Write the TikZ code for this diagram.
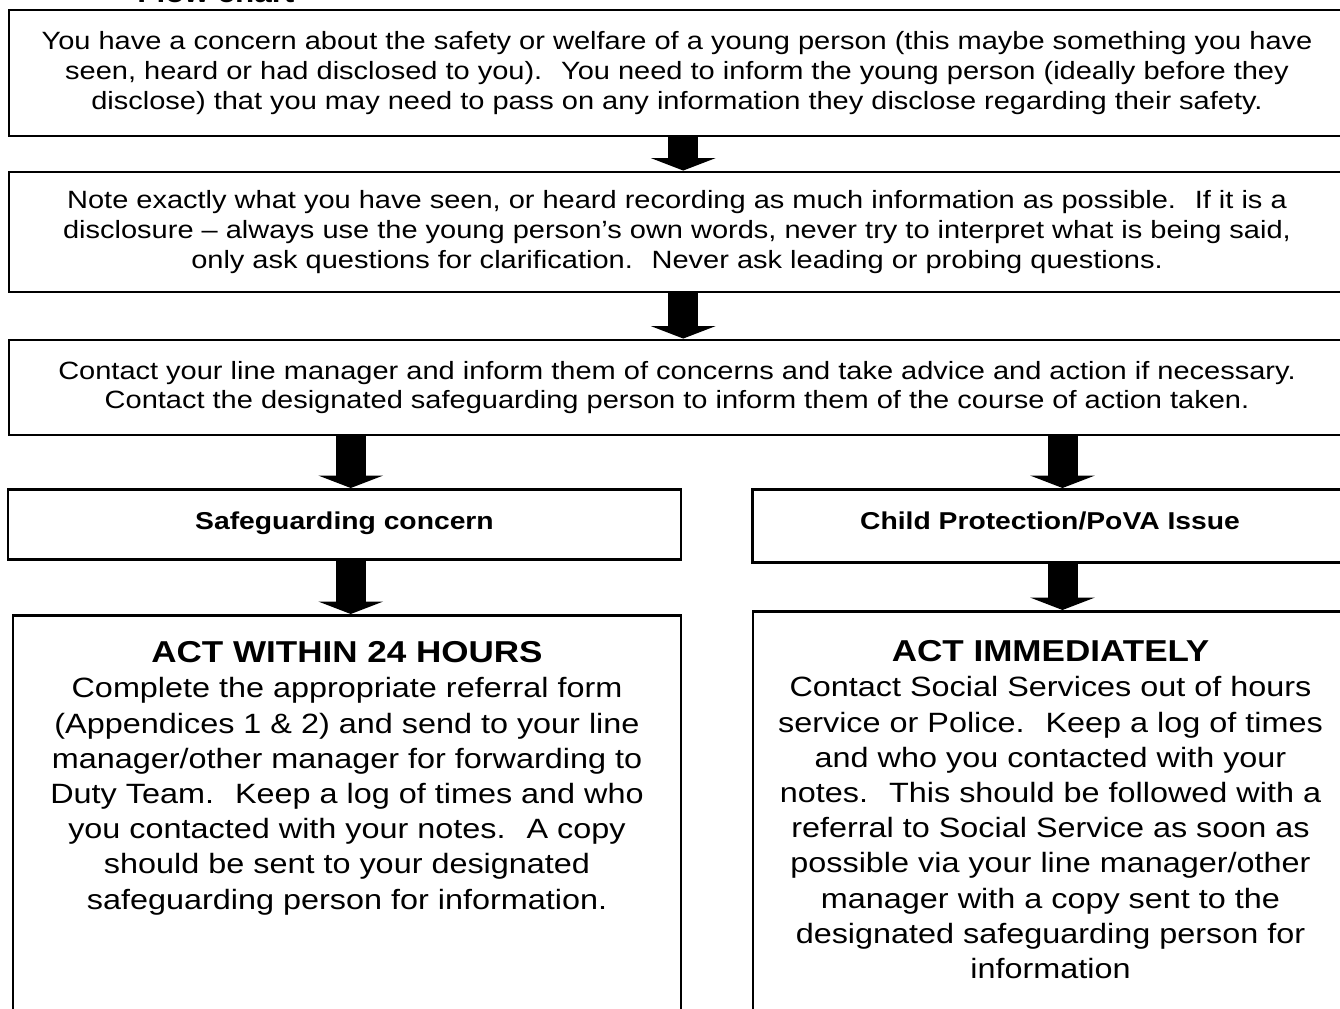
\documentclass[tikz,border=0pt]{standalone}
\usepackage{fontspec}
\setmainfont{Liberation Sans}[FakeStretch=1.16]
\usetikzlibrary{arrows.meta,positioning}

\begin{document}
\begin{tikzpicture}[x=0.48pt,y=-0.48pt,
 flow box/.style={draw,line width=1.4pt,align=center,inner sep=0pt,font=\fontsize{12}{14.2}\selectfont},
 head box/.style={flow box,anchor=north,inner ysep=10.7pt,text height=8.4pt,font=\fontsize{11.7}{14}\selectfont\bfseries},
 act box/.style={flow box,anchor=north,inner ysep=12.5pt,text depth=300pt,font=\fontsize{13.4}{16.9}\selectfont},
 big arrow/.style={line width=14.4pt,-{Triangle[length=6pt,width=31pt]}}]
\useasboundingbox (0,0) rectangle (1340,1008);
%title
  \node[anchor=base west,font=\fontsize{13}{16}\selectfont\bfseries] (title) at (130,2) {Flow chart};
%1
  \node[flow box,minimum width=641.3pt,minimum height=60.5pt] (concern) at (677,73)
    {You have a concern about the safety or welfare of a young person (this maybe something you have\\
     seen, heard or had disclosed to you).~ You need to inform the young person (ideally before they\\
     disclose) that you may need to pass on any information they disclose regarding their safety.};
%2
  \node[flow box,minimum width=641.3pt,minimum height=57.6pt] (note) at (677,232)
    {Note exactly what you have seen, or heard recording as much information as possible.~ If it is a\\
     disclosure – always use the young person’s own words, never try to interpret what is being said,\\
     only ask questions for clarification.~ Never ask leading or probing questions.};
%3
  \node[flow box,minimum width=641.3pt,minimum height=45.6pt] (contact) at (677,387.5)
    {Contact your line manager and inform them of concerns and take advice and action if necessary.\\
     Contact the designated safeguarding person to inform them of the course of action taken.};
%4
  \node[head box,minimum width=323pt,text depth=3.8pt] (safe) at (344.5,488) {Safeguarding concern};
%5
  \node[head box,minimum width=286pt,text depth=5.2pt] (child) at (1050,488) {Child Protection/PoVA Issue};
%6
  \node[act box,minimum width=320.6pt] (day) at (347,614)
    {\textbf{\fontsize{14.5}{16.9}\selectfont ACT WITHIN 24 HOURS}\\
     Complete the appropriate referral form\\
     (Appendices 1 \& 2) and send to your line\\
     manager/other manager for forwarding to\\
     Duty Team.~ Keep a log of times and who\\
     you contacted with your notes.~ A copy\\
     should be sent to your designated\\
     safeguarding person for information.};
%7
  \node[act box,minimum width=285.6pt,inner ysep=14pt] (now) at (1050.5,610)
    {\textbf{\fontsize{14.5}{16.9}\selectfont ACT IMMEDIATELY}\\
     Contact Social Services out of hours\\
     service or Police.~ Keep a log of times\\
     and who you contacted with your\\
     notes.~ This should be followed with a\\
     referral to Social Service as soon as\\
     possible via your line manager/other\\
     manager with a copy sent to the\\
     designated safeguarding person for\\
     information};
%arrows
  \draw[big arrow] ([xshift=3pt]concern.south) -- ([xshift=3pt]note.north);
  \draw[big arrow] ([xshift=3pt]note.south) -- ([xshift=3pt]contact.north);
  \draw[big arrow] ([xshift=3pt]safe.north |- contact.south) -- ([xshift=3pt]safe.north);
  \draw[big arrow] ([xshift=6pt]child.north |- contact.south) -- ([xshift=6pt]child.north);
  \draw[big arrow] ([xshift=3pt]safe.south) -- ([xshift=3pt]safe.south |- day.north);
  \draw[big arrow] ([xshift=6pt]child.south) -- ([xshift=6pt]child.south |- now.north);
\end{tikzpicture}
\end{document}
